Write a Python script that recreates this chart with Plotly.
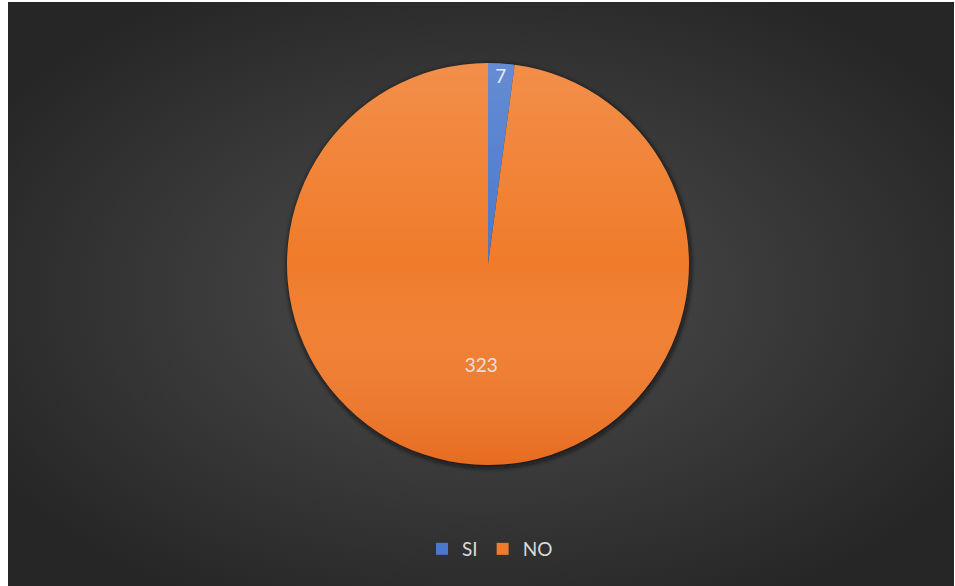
import base64
import plotly.graph_objects as go

labels = ["SI", "NO"]
values = [7, 323]
colors = ["#4A78CC", "#F07B2A"]

W, H = 955, 586
ml, mr, mt, mb = 21, 0, 63, 121
pw, ph = W - ml - mr, H - mt - mb

# background panel (radial gradient) with soft pie shadow
px0, py0, px1, py1 = 8, 2, 954, 586
bw, bh = px1 - px0, py1 - py0
cx, cy, R = 488 - px0, 264 - py0, 201
svg = f'''<svg xmlns="http://www.w3.org/2000/svg" width="{bw}" height="{bh}" viewBox="0 0 {bw} {bh}">
<defs>
<radialGradient id="g" cx="50%" cy="50%" r="60%">
<stop offset="0%" stop-color="#4e4e4e"/>
<stop offset="100%" stop-color="#262626"/>
</radialGradient>
<filter id="b" x="-20%" y="-20%" width="140%" height="140%"><feGaussianBlur stdDeviation="2.5"/></filter>
</defs>
<rect width="{bw}" height="{bh}" fill="url(#g)"/>
<circle cx="{cx+1}" cy="{cy+2}" r="{R+1}" fill="#111" opacity="0.8" filter="url(#b)"/>
</svg>'''
bg_src = "data:image/svg+xml;base64," + base64.b64encode(svg.encode()).decode()

# gradient overlay for pie (lighter top, deeper bottom)
ov = f'''<svg xmlns="http://www.w3.org/2000/svg" width="{2*R}" height="{2*R}" viewBox="0 0 {2*R} {2*R}">
<defs><linearGradient id="l" x1="0" y1="0" x2="0" y2="1">
<stop offset="0%" stop-color="#ffffff" stop-opacity="0.15"/>
<stop offset="50%" stop-color="#ffffff" stop-opacity="0.0"/>
<stop offset="100%" stop-color="#c83c00" stop-opacity="0.25"/>
</linearGradient></defs>
<circle cx="{R}" cy="{R}" r="{R}" fill="url(#l)"/>
</svg>'''
ov_src = "data:image/svg+xml;base64," + base64.b64encode(ov.encode()).decode()

def to_paper_x(x):
    return (x - ml) / pw

def to_paper_y(y):
    return 1 - (y - mt) / ph

fig = go.Figure(go.Pie(
    labels=labels,
    values=values,
    marker=dict(colors=colors, line=dict(width=0)),
    textinfo="value",
    textposition="inside",
    insidetextorientation="horizontal",
    textfont=dict(family="Lato, sans-serif", size=19, color="#e8e8e8"),
    sort=False,
    direction="clockwise",
    rotation=0,
    hoverinfo="label+value",
))

fig.update_layout(
    width=W, height=H,
    margin=dict(l=ml, r=mr, t=mt, b=mb),
    paper_bgcolor="white",
    plot_bgcolor="rgba(0,0,0,0)",
    showlegend=True,
    legend=dict(
        orientation="h",
        x=to_paper_x(490),
        xanchor="center",
        y=to_paper_y(549),
        yanchor="middle",
        font=dict(family="Lato, sans-serif", size=19, color="#d9d9d9"),
        bgcolor="rgba(0,0,0,0)",
        itemwidth=30,
    ),
    images=[
        dict(source=bg_src, xref="paper", yref="paper",
             x=to_paper_x(px0), y=to_paper_y(py0),
             sizex=bw / pw, sizey=bh / ph,
             xanchor="left", yanchor="top", sizing="stretch", layer="below"),
        dict(source=ov_src, xref="paper", yref="paper",
             x=to_paper_x(488 - R), y=to_paper_y(264 - R),
             sizex=2 * R / pw, sizey=2 * R / ph,
             xanchor="left", yanchor="top", sizing="stretch", layer="above"),
    ],
)

fig.write_html("out.html", config={"displayModeBar": False},
               post_script="document.body.style.margin='0';")
